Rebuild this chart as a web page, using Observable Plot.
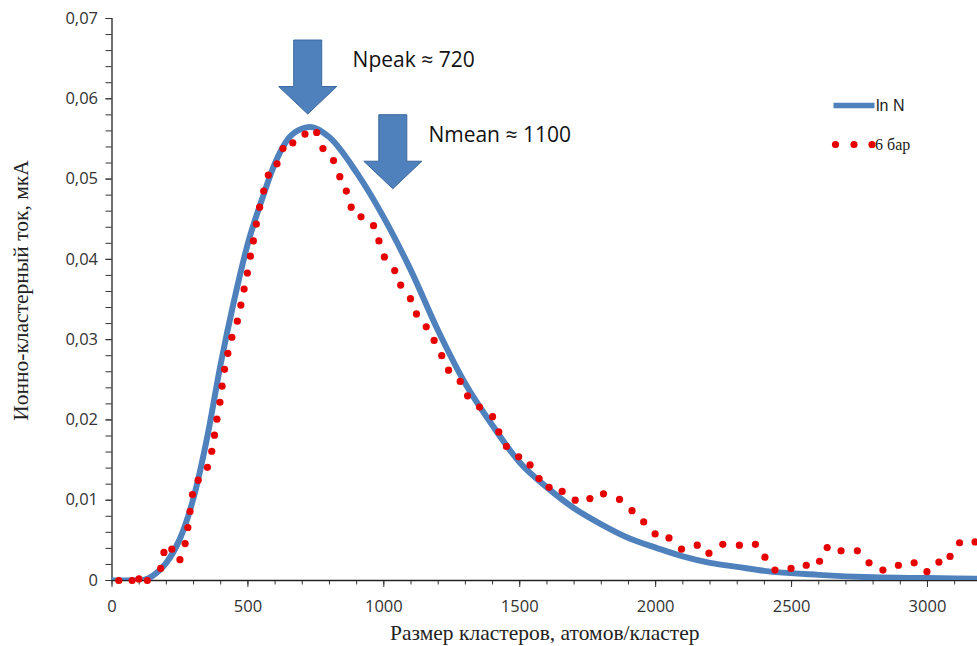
<!DOCTYPE html>
<html><head><meta charset="utf-8">
<script src="https://cdn.jsdelivr.net/npm/d3@7"></script>
<script src="https://cdn.jsdelivr.net/npm/@observablehq/plot@0.6"></script>
<style>html,body{margin:0;padding:0;background:#fff;} #chart svg{display:block;background:#fff}</style>
</head><body><div id="chart"></div>
<script>
// Fitted log-normal curve "ln N"
const fitN = [0,100,150,200,250,300,350,400,450,500,550,600,650,700,730,800,900,1000,1100,1200,1300,1400,1500,1600,1700,1800,1900,2000,2100,2200,2300,2400,2600,2800,3000,3200];
const fitI = [0,0,0.0006,0.0022,0.0052,0.0103,0.0178,0.0270,0.0350,0.0420,0.0473,0.0520,0.0551,0.0563,0.0565,0.0552,0.0508,0.0452,0.0386,0.0311,0.0245,0.0193,0.0147,0.0116,0.0090,0.0070,0.0053,0.0041,0.0030,0.0022,0.0017,0.0012,0.0007,0.0004,0.0003,0.0002];
// Measured "6 бар" (dotted series)
const expN = [25,74,99,130,179,191,220,250,269,279,287,296,317,351,367,377,386,397,405,414,426,441,461,474,486,498,509,520,531,543,558,575,607,629,665,710,753,776,815,838,862,880,916,962,982,1002,1040,1062,1098,1120,1156,1185,1213,1238,1281,1308,1352,1400,1423,1451,1496,1538,1571,1608,1656,1704,1758,1808,1867,1913,1956,1998,2049,2095,2153,2196,2247,2308,2367,2402,2439,2498,2554,2603,2631,2682,2742,2785,2836,2893,2951,2998,3042,3083,3118,3175];
const expI = [0,0,0.0002,0,0.0015,0.0035,0.0039,0.0026,0.0046,0.0066,0.0086,0.0107,0.0125,0.0141,0.0161,0.0181,0.0201,0.0222,0.0242,0.0263,0.0283,0.0303,0.0323,0.0343,0.0363,0.0383,0.0404,0.0423,0.0444,0.0465,0.0485,0.0505,0.0519,0.0538,0.0545,0.0556,0.0558,0.0538,0.0523,0.0503,0.0485,0.0465,0.0453,0.0442,0.0423,0.0403,0.0386,0.0368,0.0351,0.0332,0.0316,0.0299,0.0280,0.0262,0.0248,0.0230,0.0216,0.0204,0.0185,0.0167,0.0154,0.0144,0.0127,0.0116,0.0111,0.0100,0.0102,0.0108,0.0101,0.0087,0.0073,0.0058,0.0053,0.0039,0.0044,0.0034,0.0045,0.0044,0.0045,0.0029,0.0013,0.0015,0.0019,0.0024,0.0041,0.0037,0.0037,0.0022,0.0013,0.0019,0.0022,0.0011,0.0023,0.0030,0.0047,0.0048];

const xTicks = [0,500,1000,1500,2000,2500,3000];
const xTickLabels = ["0","500","1000","1500","2000","2500","3000"];
const yTicks = [0,0.01,0.02,0.03,0.04,0.05,0.06,0.07];
const yTickLabels = ["0","0,01","0,02","0,03","0,04","0,05","0,06","0,07"];
const seriesNames = ["ln N","6 бар"];
const xLabel = "Размер кластеров, атомов/кластер";
const yLabel = "Ионно-кластерный ток, мкА";
// Annotations: arrow tips and note anchors
const arrowN = [720, 1033];
const arrowI = [0.0581, 0.0488];
const noteN = [885, 1164];
const noteI = [0.0648, 0.0555];
const noteText = ["Npeak \u2248 720", "Nmean \u2248 1100"];

const blue = "#4f81bd", red = "#e60000";
const fit = fitN.map((n, i) => ({n, v: fitI[i]}));
const exp = expN.map((n, i) => ({n, v: expI[i]}));
const arrows = arrowN.map((n, i) => ({n, v: arrowI[i]}));
const notes = noteN.map((n, i) => ({n, v: noteI[i], t: noteText[i]}));

const arrowSymbol = {draw(ctx) {
  ctx.moveTo(0, 0); ctx.lineTo(-29, -27.5); ctx.lineTo(-14, -27.5); ctx.lineTo(-14, -74);
  ctx.lineTo(14, -74); ctx.lineTo(14, -27.5); ctx.lineTo(29, -27.5); ctx.closePath();
}};
const lineSwatch = {draw(ctx) { ctx.rect(-20.5, -2.75, 41, 5.5); }};
const dotsSwatch = {draw(ctx) {
  for (const cx of [-18.5, 0, 18]) { ctx.moveTo(cx + 3.6, 0); ctx.arc(cx, 0, 3.6, 0, 2 * Math.PI); }
}};

const sans = "'Open Sans', sans-serif";
const serif = "'Liberation Serif', 'Times New Roman', serif";

const chart = Plot.plot({
  width: 977, height: 646,
  marginLeft: 111.5, marginRight: 0, marginTop: 18, marginBottom: 66,
  style: {fontFamily: sans, background: "#fff", color: "#222"},
  x: {domain: [0, 3184], label: null},
  y: {domain: [0, 0.07], label: null},
  marks: [
    Plot.axisY(d3.range(0, 0.0701, 0.002), {tickSize: 6, text: null, stroke: "#333", label: null}),
    Plot.axisY(yTicks, {tickSize: 6, tickPadding: 8, tickFormat: (d, i) => yTickLabels[i], fontSize: 16.5, fill: "#333", stroke: "#333", label: null}),
    Plot.axisX(d3.range(0, 3184, 100), {tickSize: 4.5, text: null, stroke: "#333", label: null}),
    Plot.axisX(xTicks, {tickSize: 7, tickPadding: 13, tickFormat: (d, i) => xTickLabels[i], fontSize: 16.5, fill: "#333", stroke: "#333", label: null}),
    Plot.ruleX([0], {stroke: "#222", strokeWidth: 1.3}),
    Plot.ruleY([0], {stroke: "#222", strokeWidth: 1.3}),
    Plot.line(fit, {x: "n", y: "v", stroke: blue, strokeWidth: 6, curve: "monotone-x", clip: true}),
    Plot.dot(exp, {x: "n", y: "v", r: 3.6, fill: red, stroke: "none"}),
    Plot.dot(arrows, {x: "n", y: "v", symbol: arrowSymbol, fill: blue, stroke: "#3a679c", strokeWidth: 1}),
    Plot.text(notes, {x: "n", y: "v", text: "t", textAnchor: "start", fontSize: 21, fontFamily: sans, fill: "#111"}),
    Plot.text([xLabel], {text: d => d, frameAnchor: "bottom", lineAnchor: "middle", dy: 53, fontSize: 21.5, fontFamily: serif, fill: "#222"}),
    Plot.text([yLabel], {text: d => d, frameAnchor: "left", textAnchor: "middle", lineAnchor: "middle", rotate: -90, dx: -91, dy: -9, fontSize: 21.5, fontFamily: serif, fill: "#222"}),
    Plot.dot([0], {frameAnchor: "top-left", dx: 742, dy: 87, symbol: lineSwatch, fill: blue, stroke: "none"}),
    Plot.dot([0], {frameAnchor: "top-left", dx: 742, dy: 126, symbol: dotsSwatch, fill: red, stroke: "none"}),
    Plot.text([seriesNames[0]], {text: d => d, frameAnchor: "top-left", dx: 764, dy: 87, textAnchor: "start", lineAnchor: "middle", fontSize: 16, fontFamily: "'Liberation Sans', Arial, sans-serif", fill: "#222"}),
    Plot.text([seriesNames[1]], {text: d => d, frameAnchor: "top-left", dx: 763, dy: 126, textAnchor: "start", lineAnchor: "middle", fontSize: 16, fontFamily: serif, fill: "#222"})
  ]
});
document.getElementById("chart").appendChild(chart);
</script>
</body></html>
